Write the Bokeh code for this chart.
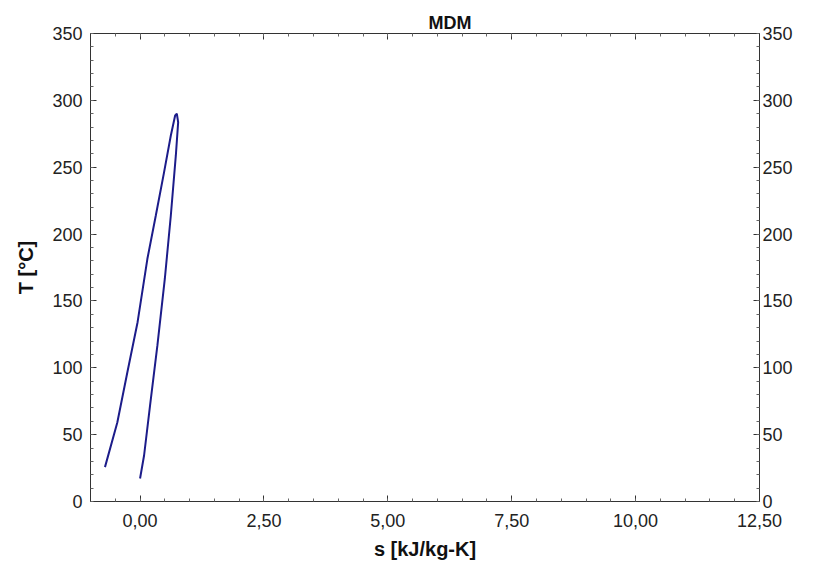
from bokeh.plotting import figure
from bokeh.models import LinearAxis, Range1d, FixedTicker, CustomJSTickFormatter, Title
from bokeh.embed import file_html
from bokeh.resources import INLINE

# Saturation dome of MDM (T-s diagram)
s_liquid = [-0.708, -0.459, -0.257, -0.05, 0.148, 0.318, 0.485, 0.621, 0.708, 0.742]
T_liquid = [25.7, 59.1, 96.5, 134.1, 181.5, 213.9, 246.3, 273.7, 288.7, 290.0]
s_vapor = [0.742, 0.769, 0.722, 0.621, 0.50, 0.35, 0.202, 0.081, 0.0]
T_vapor = [290.0, 283.7, 258.8, 213.9, 166.6, 116.7, 71.8, 34.4, 17.2]

x_ticks = [0, 2.5, 5, 7.5, 10, 12.5]
y_ticks = [0, 50, 100, 150, 200, 250, 300, 350]
x_minor = [-1 + 0.5 * i for i in range(28)]
y_minor = list(range(0, 351, 10))

FONT = "Liberation Sans"
LINE = "#1c1c8a"

p = figure(width=819, height=564, output_backend="svg", toolbar_location=None,
           x_range=Range1d(-1.0, 12.5), y_range=Range1d(0, 350),
           min_border_left=90, min_border_right=60, min_border_top=33, min_border_bottom=63)
p.grid.visible = False
p.outline_line_color = "#333333"
p.outline_line_width = 1
p.background_fill_color = "white"
p.border_fill_color = "white"

p.line(s_liquid + s_vapor[1:], T_liquid + T_vapor[1:], line_color=LINE, line_width=2)

fmt = CustomJSTickFormatter(code="return tick.toFixed(2).replace('.', ',');")
blank = CustomJSTickFormatter(code="return '';")

def style(ax):
    ax.axis_line_color = "#333333"
    ax.major_tick_in = 6
    ax.major_tick_out = 0
    ax.minor_tick_in = 3
    ax.minor_tick_out = 0
    ax.major_tick_line_color = "#333333"
    ax.minor_tick_line_color = "#666666"
    ax.major_label_text_font = FONT
    ax.major_label_text_font_size = "18px"
    ax.major_label_text_color = "#222222"
    ax.axis_label_text_font = FONT
    ax.axis_label_text_font_style = "bold"
    ax.axis_label_text_font_size = "20px"
    ax.axis_label_text_color = "#111111"

xa = p.xaxis[0]
xa.ticker = FixedTicker(ticks=x_ticks, minor_ticks=x_minor)
xa.formatter = fmt
xa.axis_label = "s [kJ/kg-K]"
xa.axis_label_standoff = 8
xa.major_label_standoff = 12
style(xa)

ya = p.yaxis[0]
ya.ticker = FixedTicker(ticks=y_ticks, minor_ticks=y_minor)
ya.axis_label = "T [°C]"
ya.axis_label_standoff = 12
ya.major_label_standoff = 8
style(ya)

ra = LinearAxis(ticker=FixedTicker(ticks=y_ticks, minor_ticks=y_minor))
style(ra)
ra.major_label_standoff = 3
p.add_layout(ra, "right")

ta = LinearAxis(ticker=FixedTicker(ticks=x_ticks, minor_ticks=x_minor), formatter=blank)
style(ta)
ta.major_label_standoff = 0
p.add_layout(ta, "above")

p.title = Title(text="MDM", align="left", offset=338, text_font=FONT,
                text_font_style="bold", text_font_size="18px", text_color="#111111",
                standoff=2)

open("out.html", "w").write(file_html(p, INLINE))
